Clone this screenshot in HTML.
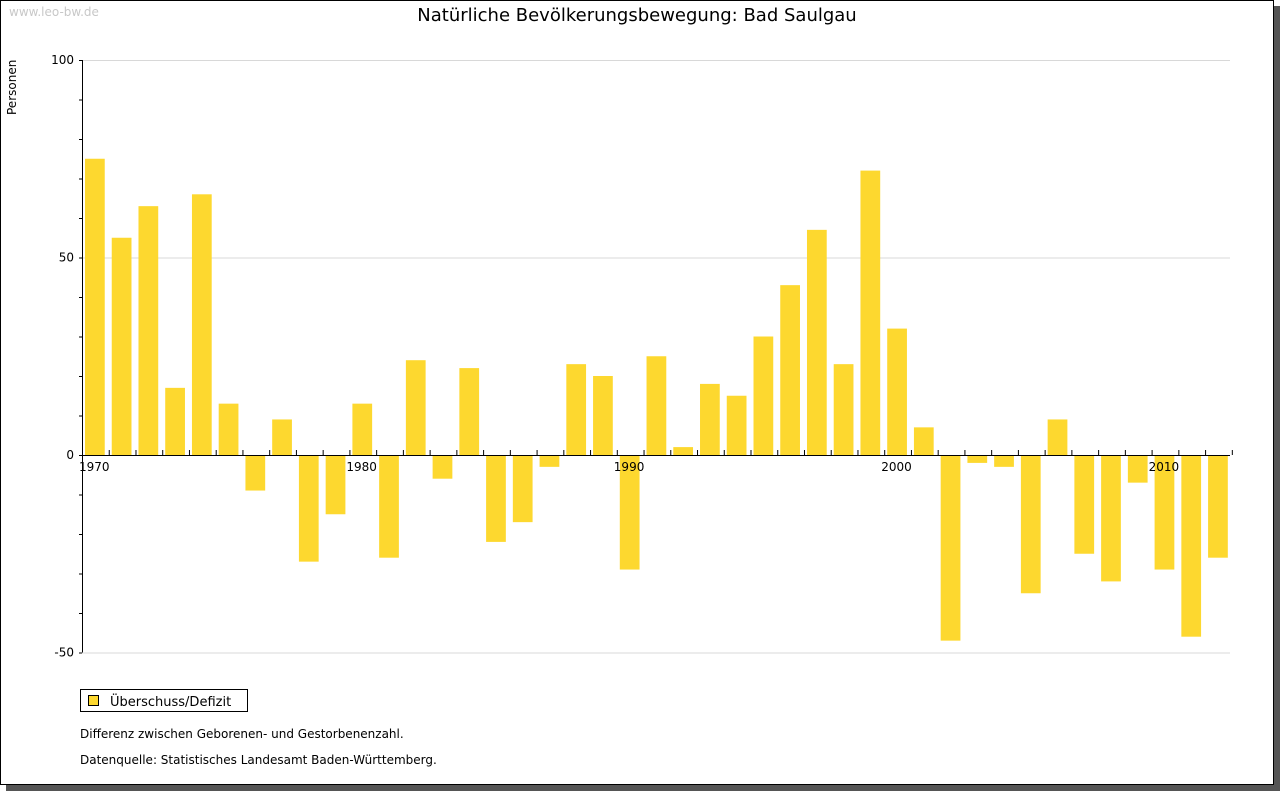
<!DOCTYPE html>
<html><head><meta charset="utf-8"><style>
body{margin:0;background:#fff;font-family:"DejaVu Sans","Liberation Sans",sans-serif}
</style></head><body>
<svg width="1280" height="791" xmlns="http://www.w3.org/2000/svg">
<rect x="6" y="6" width="1274" height="785" fill="#555"/>
<rect x="0.5" y="0.5" width="1273" height="784" fill="#fff" stroke="#000"/>
<text x="9" y="16" font-size="12" fill="#c8c8c8">www.leo-bw.de</text>
<text x="637" y="21" font-size="18" text-anchor="middle" fill="#000">Natürliche Bevölkerungsbewegung: Bad Saulgau</text>
<text transform="translate(16,115) rotate(-90)" font-size="12">Personen</text>
<g id="grid"></g><g id="bars"></g><g id="axes"></g>
<rect x="80.5" y="689.5" width="167" height="22" fill="#fff" stroke="#000"/>
<rect x="88.5" y="695.5" width="10" height="10" fill="#fdd82f" stroke="#000"/>
<text x="110" y="706" font-size="13">Überschuss/Defizit</text>
<text x="80" y="738" font-size="12">Differenz zwischen Geborenen- und Gestorbenenzahl.</text>
<text x="80" y="764" font-size="12">Datenquelle: Statistisches Landesamt Baden-Württemberg.</text>
</svg>
<script>
const years=[1970,1971,1972,1973,1974,1975,1976,1977,1978,1979,1980,1981,1982,1983,1984,1985,1986,1987,1988,1989,1990,1991,1992,1993,1994,1995,1996,1997,1998,1999,2000,2001,2002,2003,2004,2005,2006,2007,2008,2009,2010,2011,2012];
const values=[75,55,63,17,66,13,-9,9,-27,-15,13,-26,24,-6,22,-22,-17,-3,23,20,-29,25,2,18,15,30,43,57,23,72,32,7,-47,-2,-3,-35,9,-25,-32,-7,-29,-46,-26];
const yTicks=[100,50,0,-50];
const xLabels=[1970,1980,1990,2000,2010];
const NS="http://www.w3.org/2000/svg";
const x0=82,x1=1230,slot=26.74;
const y=v=>455-v*3.95;
const xs=i=>x0+i*slot;
function mk(t,a,p){const e=document.createElementNS(NS,t);for(const k in a)e.setAttribute(k,a[k]);document.getElementById(p).appendChild(e);return e;}
yTicks.forEach(v=>{
 const l=mk('line',{x1:x0,x2:x1,y1:y(v)+.5,y2:y(v)+.5,stroke:'#d8d8d8'},'grid');
 
 
 const t=mk('text',{x:74,y:y(v)+4,'font-size':12,'text-anchor':'end'},'axes');t.textContent=v;
 
 
});
for(let v=-50;v<=100;v+=10){mk('line',{x1:x0-3,x2:x0,y1:y(v)+.5,y2:y(v)+.5,stroke:'#000'},'axes');}
values.forEach((v,i)=>{
 const top=Math.min(y(v),y(0)),h=Math.abs(y(v)-y(0));
 const r=mk('rect',{x:xs(i)+3,y:top,width:slot-7,height:h,fill:'#fdd82f'},'bars');
 
 
});
mk('line',{x1:x0+.5,x2:x0+.5,y1:y(100),y2:y(-50),stroke:'#000'},'axes');
mk('line',{x1:x0,x2:x1,y1:455.5,y2:455.5,stroke:'#000'},'axes');
for(let i=1;i<=years.length;i++){mk('line',{x1:xs(i)+.5,x2:xs(i)+.5,y1:450,y2:455,stroke:'#000'},'axes');}
xLabels.forEach(yr=>{
 const i=years.indexOf(yr);
 const t=mk('text',{x:xs(i)-3,y:471,'font-size':12},'axes');t.textContent=yr;
 
 
});
</script>
</body></html>
